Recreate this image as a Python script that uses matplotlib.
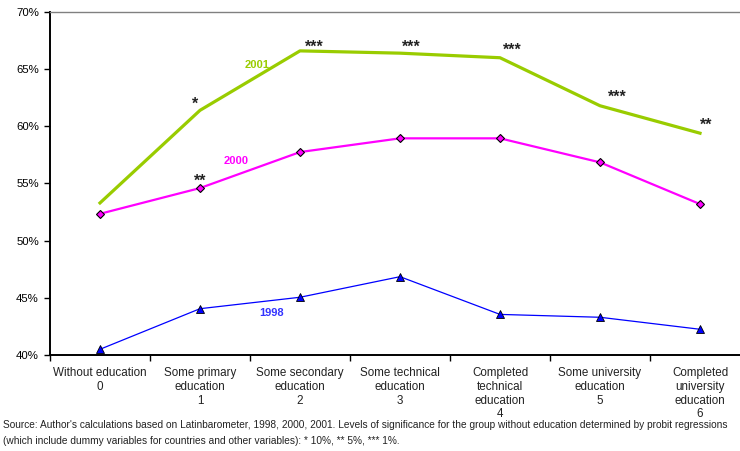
import matplotlib
matplotlib.use("Agg")
import matplotlib.pyplot as plt

# Data
categories = ["Without education\n0", "Some primary\neducation\n1", "Some secondary\neducation\n2",
              "Some technical\neducation\n3", "Completed\ntechnical\neducation\n4",
              "Some university\neducation\n5", "Completed\nuniversity\neducation\n6"]
y2001 = [53.3, 61.4, 66.6, 66.4, 66.0, 61.8, 59.4]
y2000 = [52.35, 54.6, 57.75, 58.95, 58.95, 56.85, 53.2]
y1998 = [40.5, 44.05, 45.05, 46.85, 43.55, 43.3, 42.25]
sig2001 = ["", "*", "***", "***", "***", "***", "**"]
sig2000 = ["", "**", "", "", "", "", ""]
yticks = [40, 45, 50, 55, 60, 65, 70]
source = ("Source: Author's calculations based on Latinbarometer, 1998, 2000, 2001. Levels of significance for the group without education determined by probit regressions\n"
          "(which include dummy variables for countries and other variables): * 10%, ** 5%, *** 1%.")

# pixel nudges for the star labels (placement only)
star_dx = [0, -5, 14, 11, 12, 17, 6]
star_dy = [0, 8, 6, 8, 9, 10, 10]

plt.rcParams["font.family"] = ["Liberation Sans", "DejaVu Sans"]

fig = plt.figure(figsize=(7.4, 4.51), dpi=100)
# axes spans x 50..750 px, y 12..355 px (right edge runs past the figure)
ax = fig.add_axes([50 / 740, 1 - 355 / 451, 700 / 740, 343 / 451])

x = list(range(len(categories)))
ax.plot(x, y2001, color="#99CC00", lw=2.3, zorder=3)
ax.plot(x, y2000, color="#FF00FF", lw=1.6, marker="D", ms=4.2, mfc="#FF00FF", mec="black", mew=0.8, zorder=3)
ax.plot(x, y1998, color="#0000FF", lw=0.9, marker="^", ms=5.5, mfc="#0000FF", mec="black", mew=0.6, zorder=3)

# series labels
ax.text(1.57, 65.35, "2001", color="#99CC00", fontsize=8, fontweight="bold", ha="center", va="center")
ax.text(1.36, 56.95, "2000", color="#FF00FF", fontsize=8, fontweight="bold", ha="center", va="center")
ax.text(1.72, 43.65, "1998", color="#3333FF", fontsize=8, fontweight="bold", ha="center", va="center")

# significance stars (glyph centre sits ~6.5 px above the baseline)
for i, s in enumerate(sig2001):
    if s:
        ax.annotate(s, (x[i], y2001[i]), xytext=(star_dx[i], star_dy[i] - 6.5), textcoords="offset pixels",
                    ha="center", va="baseline", fontsize=11.5, fontweight="bold", color="#222222")
for i, s in enumerate(sig2000):
    if s:
        ax.annotate(s, (x[i], y2000[i]), xytext=(0, 9 - 6.5), textcoords="offset pixels",
                    ha="center", va="baseline", fontsize=11.5, fontweight="bold", color="#222222")

ax.set_xlim(-0.5, 6.5)
ax.set_ylim(40, 70)
ax.set_yticks(yticks)
ax.set_yticklabels([f"{v}%" for v in yticks], fontsize=8.2, color="#222222")
ax.set_xticks([i + 0.5 for i in range(-1, 7)])
ax.set_xticklabels([])
ax.tick_params(axis="both", direction="out", length=4, width=1, colors="black")
ax.tick_params(axis="y", pad=4)
for i, lab in enumerate(categories):
    ax.text(i, -12 / 343, lab, ha="center", va="top", fontsize=8.4, color="#222222",
            linespacing=1.2, transform=ax.get_xaxis_transform())

ax.spines["left"].set_linewidth(1.4)
ax.spines["bottom"].set_linewidth(1.4)
ax.spines["top"].set_color("#808080")
ax.spines["top"].set_linewidth(1.0)
ax.spines["right"].set_visible(False)

fig.text(3 / 740, 1 - 420 / 451, source, ha="left", va="top", fontsize=7.3, color="#222222",
         linespacing=1.7)

fig.savefig("out.png", dpi=100)
